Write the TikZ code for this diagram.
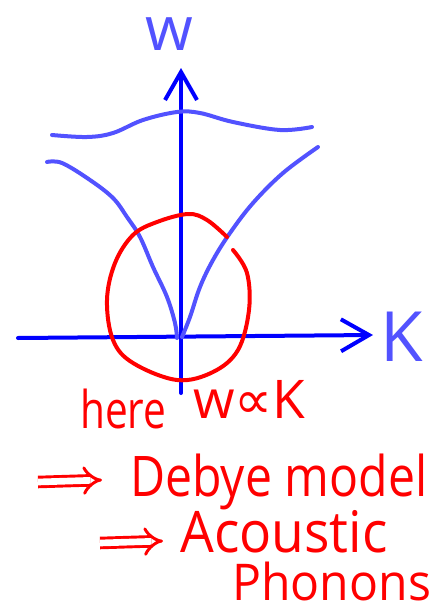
\documentclass[tikz,border=0pt]{standalone}
\usepackage{fontspec}
\setmainfont{Open Sans}
\newfontfamily\symfont{DejaVu Sans}
\usetikzlibrary{arrows.meta}
\definecolor{axisblue}{RGB}{0,0,255}
\definecolor{curveblue}{RGB}{82,82,255}
\definecolor{inkred}{RGB}{255,0,0}
\tikzset{
  axisline/.style={axisblue, line width=3pt, line cap=round, -{Straight Barb[length=21pt,width=24pt,line width=3pt]}},
  curveline/.style={curveblue, line width=3pt, line cap=round, line join=round},
  redline/.style={inkred, line width=3pt, line cap=round, line join=round},
  redarrow/.style={inkred, line width=2.2pt, double=white, double distance=5pt, -{Implies}},
  bluetext/.style={curveblue, inner sep=0pt},
  redtext/.style={inkred, inner sep=0pt},
}
\begin{document}
\begin{tikzpicture}[x=0.75pt,y=-0.75pt]
\useasboundingbox (0,0) rectangle (442,614);
% axes
\coordinate (xL) at (18,338);
\coordinate (xR) at (373,335);
\coordinate (yB) at (181,393);
\coordinate (yT) at (181,68);
\draw[axisline] (xL) -- (xR);
\draw[axisline] (yB) -- (yT);
\node[bluetext, anchor=base, font=\fontsize{46}{46}\selectfont] (wlab) at (169,50) {w};
\node[bluetext, font=\fontsize{52}{52}\selectfont] (klab) at (402,337) {K};
% optical branch
\draw[curveline] plot[smooth, tension=0.6] coordinates {(52,135) (87,137) (113,133) (143,120) (177,112) (200,113) (233,122) (280,130) (312,127)};
% acoustic branch
\draw[curveline] plot[smooth, tension=0.6] coordinates {(47,162) (62,163) (90,180) (113,198) (127,217) (140,237) (153,267) (167,297) (175,323) (177,338)};
\draw[curveline] plot[smooth, tension=0.6] coordinates {(182,337) (190,317) (200,287) (213,260) (230,233) (253,203) (283,173) (318,147)};
% red circle
\draw[redline] plot[smooth, tension=0.6] coordinates {(227,237) (207,220) (188,214) (157,222) (133,235) (115,263) (107,300) (113,340) (133,363) (177,380) (213,372) (238,350) (249,310) (247,273) (233,250)};
% texts
\node[redtext, anchor=base west, font=\fontsize{39}{39}\selectfont, xscale=0.78, transform shape] (here) at (80,428) {here};
\node[redtext, anchor=base west, font=\fontsize{40}{40}\selectfont] (prop) at (193,418) {w{\symfont ∝}K};
\coordinate (a1s) at (38,482);
\coordinate (a1e) at (102,480);
\draw[redarrow] (a1s) -- (a1e);
\node[redtext, anchor=base west, font=\fontsize{42}{42}\selectfont, xscale=0.86, transform shape] (debye) at (130,496) {Debye model};
\coordinate (a2s) at (100,543);
\coordinate (a2e) at (163,541);
\draw[redarrow] (a2s) -- (a2e);
\node[redtext, anchor=base west, font=\fontsize{43}{43}\selectfont, xscale=0.93, transform shape] (acou) at (180,552) {Acoustic};
\node[redtext, anchor=base west, font=\fontsize{38}{38}\selectfont, xscale=0.95, transform shape] (phon) at (232,600) {Phonons};
\end{tikzpicture}
\end{document}
